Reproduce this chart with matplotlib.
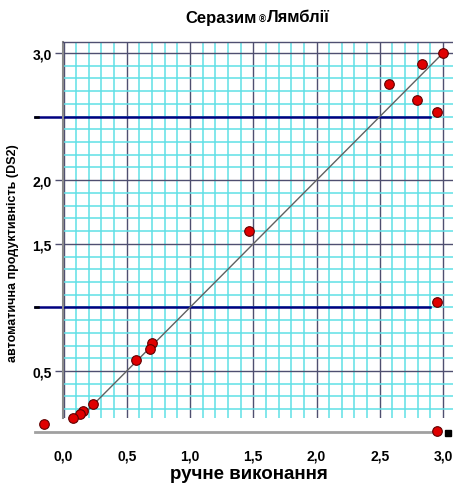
import matplotlib
matplotlib.use("Agg")
import matplotlib.pyplot as plt
from matplotlib.ticker import MultipleLocator

plt.rcParams['font.family'] = ['Liberation Sans', 'DejaVu Sans']

# ---- data ----
manual = [3.00, 2.83, 2.57, 2.795, 2.95, 1.47, 2.95, 0.70, 0.68, 0.57,
          0.23, 0.155, 0.13, 0.075, -0.155, 2.955]
auto = [3.00, 2.91, 2.76, 2.63, 2.54, 1.60, 1.04, 0.72, 0.67, 0.59,
        0.24, 0.185, 0.16, 0.13, 0.08, 0.03]
x_ticks = [0.0, 0.5, 1.0, 1.5, 2.0, 2.5, 3.0]
x_tick_labels = ["0,0", "0,5", "1,0", "1,5", "2,0", "2,5", "3,0"]
y_ticks = [0.5, 1.5, 2.0, 3.0]
y_tick_labels = ["0,5", "1,5", "2,0", "3,0"]
ref_levels = [1.0, 2.5]
identity = [0.0, 3.0]

title_a = "Серазим"
title_mark = "®"
title_b = "Лямблії"
xlabel = "ручне виконання"
ylabel = "автоматична продуктивність (DS2)"

# ---- figure ----
fig = plt.figure(figsize=(4.53, 4.85), dpi=100)
W, H = 453, 485
ax = fig.add_axes([63 / W, 1 - 419 / H, (453 - 63) / W, (419 - 42.7) / H])
ax.set_xlim(-0.004, 3.079)
ax.set_ylim(0.1305, 3.089)

minor_c = "#5fe0e6"
major_c = "#4f4f70"

ax.xaxis.set_minor_locator(MultipleLocator(0.1))
ax.yaxis.set_minor_locator(MultipleLocator(0.1))
ax.set_xticks(x_ticks, x_tick_labels)
ax.set_yticks(y_ticks, y_tick_labels)
ax.grid(which="minor", color=minor_c, lw=1.1, zorder=0)
ax.grid(which="major", color=major_c, lw=1.0, zorder=0.5)
ax.set_axisbelow(True)

ax.tick_params(axis="x", which="major", length=0, pad=22, labelsize=10)
ax.tick_params(axis="y", which="major", length=6, width=1, color=major_c,
               pad=2, labelsize=10)
ax.tick_params(which="minor", length=0)
for lab in ax.get_xticklabels() + ax.get_yticklabels():
    lab.set_fontweight("bold")

for s in ["right", "bottom"]:
    ax.spines[s].set_visible(False)
ax.spines["left"].set_color("#8a8a8a")
ax.spines["left"].set_linewidth(1.5)
ax.spines["top"].set_color(major_c)
ax.spines["top"].set_linewidth(1.0)

# reference lines (blue)
for lv in ref_levels:
    ax.plot([-0.225, 2.90], [lv, lv], color="#000080", lw=1.8,
            clip_on=False, zorder=2)
    ax.plot([-0.225, -0.20], [lv, lv], color="black", lw=1.8,
            clip_on=False, zorder=2.1)

# identity line
ax.plot(identity, identity, color="#606060", lw=1.0, zorder=3)

# bottom gray base line
ax.plot([-0.225, 2.93], [0.02, 0.02], color="#a0a0a0", lw=2.0,
        clip_on=False, zorder=2)
ax.plot([3.04], [0.01], marker="s", color="black", ms=5, clip_on=False,
        zorder=4)

# points
ax.scatter(manual, auto, s=48, color="#e00000", edgecolors="#600000",
           linewidths=0.8, zorder=5, clip_on=False)

# title with small registered mark
ty = 1 - 18 / H
fig.text(257 / W, ty, title_a, fontsize=12, fontweight="bold",
         ha="right", va="center")
fig.text(262 / W, 1 - 20 / H, title_mark, fontsize=7, fontweight="bold",
         ha="center", va="center")
fig.text(267 / W, ty, title_b, fontsize=12, fontweight="bold",
         ha="left", va="center")

fig.text(249 / W, 1 - 475 / H, xlabel, fontsize=13.5, fontweight="bold",
         ha="center", va="center")
fig.text(13 / W, 1 - 253 / H, ylabel, fontsize=9, fontweight="bold",
         ha="center", va="center", rotation=90)

fig.savefig("out.png", dpi=100)
